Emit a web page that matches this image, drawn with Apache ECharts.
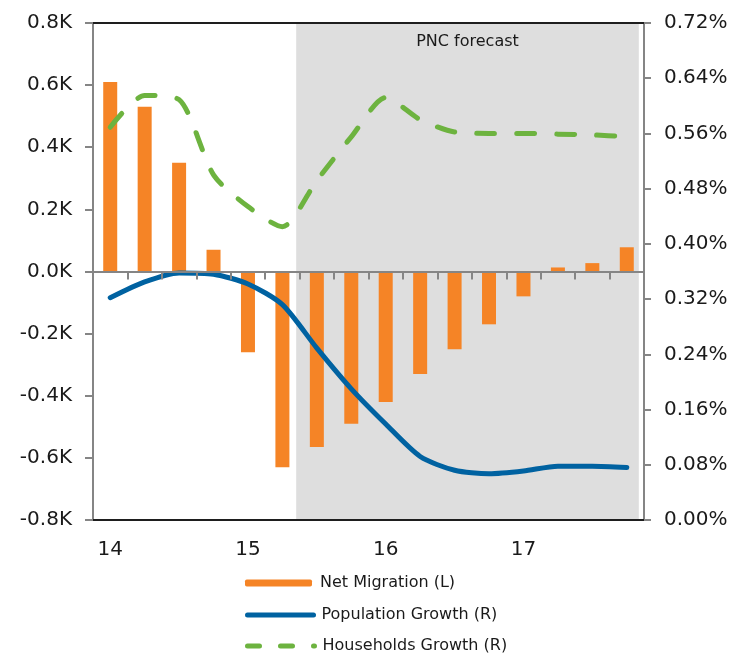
<!DOCTYPE html>
<html>
<head>
<meta charset="utf-8">
<script src="https://cdn.jsdelivr.net/npm/echarts@6/dist/echarts.min.js"></script>
<style>
  html, body { margin: 0; padding: 0; background: #ffffff; }
  #chart { width: 751px; height: 653px; }
</style>
</head>
<body>
<div id="chart"></div>
<script>
// Quarterly categories, 2014 Q1 through 2017 Q4
const quarters = ['14Q1','14Q2','14Q3','14Q4','15Q1','15Q2','15Q3','15Q4',
                  '16Q1','16Q2','16Q3','16Q4','17Q1','17Q2','17Q3','17Q4'];

// Net migration, thousands (left axis)
const netMigration = [0.61, 0.53, 0.35, 0.07, -0.26, -0.63, -0.565, -0.49,
                      -0.42, -0.33, -0.25, -0.17, -0.08, 0.013, 0.027, 0.078];

// Population growth, % (right axis)
const populationGrowth = [0.322, 0.345, 0.358, 0.356, 0.342, 0.312, 0.249, 0.19,
                          0.139, 0.092, 0.072, 0.067, 0.071, 0.078, 0.078, 0.076];

// Households growth, % (right axis)
const householdsGrowth = [0.569, 0.615, 0.609, 0.5, 0.454, 0.425, 0.492, 0.555,
                          0.612, 0.58, 0.562, 0.56, 0.56, 0.559, 0.558, 0.555];

// Forecast period, in category slots (0 = left edge, 16 = right edge)
const forecastSpan = [5.9, 15.85];
const forecastLabel = 'PNC forecast';

const seriesNames = ['Net Migration (L)', 'Population Growth (R)', 'Households Growth (R)'];

const FONT = 'DejaVu Sans, Verdana, sans-serif';
const ORANGE = '#F58426';
const BLUE = '#0062A1';
const GREEN = '#6DB33F';
const AXIS_GREY = '#858585';
const TEXT = '#1a1a1a';

// one legend block per series, stacked under the plot
function legendRow(name, top, extra) {
  return Object.assign({
    orient: 'horizontal',
    left: 245,
    top: top,
    padding: 0,
    itemWidth: 67,
    itemHeight: 7,
    data: [name],
    textStyle: { fontFamily: FONT, fontSize: 16, color: TEXT, padding: [0, 0, 0, 3] }
  }, extra || {});
}

const chart = echarts.init(document.getElementById('chart'), null, { renderer: 'canvas' });

const option = {
  backgroundColor: '#ffffff',
  animation: false,
  textStyle: { fontFamily: FONT },
  grid: { left: 93, right: 107, top: 23, bottom: 133, containLabel: false },
  legend: [
    legendRow(seriesNames[0], 575),
    legendRow(seriesNames[1], 607, {
      left: 245,
      itemWidth: 66,
      itemStyle: { opacity: 0 },
      lineStyle: { width: 5, cap: 'round' }
    }),
    legendRow(seriesNames[2], 638, {
      left: 245,
      itemWidth: 67,
      itemStyle: { opacity: 0 },
      lineStyle: { width: 5, type: [12, 21], cap: 'round' }
    })
  ],
  xAxis: [
    {
      // zero line with quarter ticks
      type: 'category',
      data: quarters,
      position: 'bottom',
      z: 10,
      axisLine: { onZero: true, onZeroAxisIndex: 0, lineStyle: { color: AXIS_GREY, width: 2 } },
      axisTick: { show: true, interval: 0, length: 8, lineStyle: { color: AXIS_GREY, width: 2 } },
      axisLabel: { show: false },
      splitLine: { show: false }
    },
    {
      // bottom frame with year labels
      type: 'category',
      data: quarters,
      position: 'bottom',
      z: 10,
      axisLine: { onZero: false, lineStyle: { color: '#1e1e1e', width: 2 } },
      axisTick: { show: false },
      axisLabel: {
        interval: 3,
        margin: 20,
        fontSize: 20,
        color: TEXT,
        fontFamily: FONT,
        formatter: v => v.slice(0, 2)
      },
      splitLine: { show: false }
    },
    {
      // top frame
      type: 'category',
      data: quarters,
      position: 'top',
      z: 10,
      axisLine: { onZero: false, lineStyle: { color: '#1e1e1e', width: 2 } },
      axisTick: { show: false },
      axisLabel: { show: false },
      splitLine: { show: false }
    },
    {
      // slot scale for the forecast shading
      type: 'value',
      min: 0,
      max: quarters.length,
      show: false
    }
  ],
  yAxis: [
    {
      type: 'value',
      min: -0.8,
      max: 0.8,
      interval: 0.2,
      position: 'left',
      z: 10,
      axisLine: { show: true, onZero: false, lineStyle: { color: AXIS_GREY, width: 2 } },
      axisTick: { show: true, length: 8, lineStyle: { color: AXIS_GREY, width: 2 } },
      axisLabel: {
        margin: 21,
        fontSize: 20,
        color: TEXT,
        fontFamily: FONT,
        formatter: v => v.toFixed(1) + 'K'
      },
      splitLine: { show: false }
    },
    {
      type: 'value',
      min: 0,
      max: 0.72,
      interval: 0.08,
      position: 'right',
      z: 10,
      axisLine: { show: true, onZero: false, lineStyle: { color: AXIS_GREY, width: 2 } },
      axisTick: { show: true, length: 7, lineStyle: { color: AXIS_GREY, width: 2 } },
      axisLabel: {
        margin: 20,
        fontSize: 20,
        color: TEXT,
        fontFamily: FONT,
        formatter: v => v.toFixed(2) + '%'
      },
      splitLine: { show: false }
    }
  ],
  series: [
    {
      name: seriesNames[0],
      type: 'bar',
      xAxisIndex: 0,
      yAxisIndex: 0,
      data: netMigration,
      barWidth: 14,
      itemStyle: { color: ORANGE },
      z: 2
    },
    {
      name: seriesNames[1],
      type: 'line',
      xAxisIndex: 0,
      yAxisIndex: 1,
      data: populationGrowth,
      smooth: 0.25,
      symbol: 'none',
      lineStyle: { color: BLUE, width: 5, cap: 'round', join: 'round' },
      itemStyle: { color: BLUE },
      z: 3
    },
    {
      name: seriesNames[2],
      type: 'line',
      xAxisIndex: 0,
      yAxisIndex: 1,
      data: householdsGrowth,
      smooth: 0.25,
      symbol: 'none',
      lineStyle: { color: GREEN, width: 5, type: [18, 22], cap: 'round', join: 'round' },
      itemStyle: { color: GREEN },
      z: 3
    },
    {
      // forecast shading drawn as a darkening layer over the marks
      name: 'forecast',
      type: 'line',
      xAxisIndex: 3,
      yAxisIndex: 0,
      data: [],
      silent: true,
      z: 5,
      markArea: {
        silent: true,
        itemStyle: { color: 'rgba(0,0,0,0.13)' },
        label: {
          show: true,
          position: 'insideTop',
          distance: 11,
          color: TEXT,
          fontSize: 16,
          fontFamily: FONT
        },
        data: [[
          { xAxis: forecastSpan[0], name: forecastLabel },
          { xAxis: forecastSpan[1] }
        ]]
      }
    }
  ]
};

chart.setOption(option);
</script>
</body>
</html>
